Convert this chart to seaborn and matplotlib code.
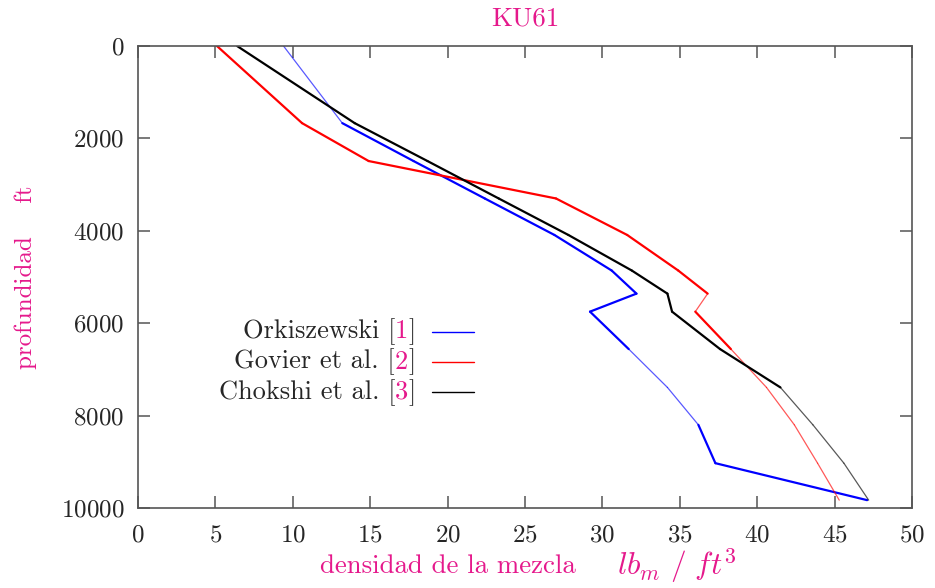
import matplotlib
matplotlib.use("Agg")
import matplotlib.pyplot as plt
import seaborn as sns
from matplotlib.lines import Line2D
from matplotlib.offsetbox import TextArea, HPacker, VPacker, DrawingArea, AnchoredOffsetbox

# depth (ft) shared by the three correlations
depth = [0, 1670, 2490, 3300, 4090, 4860, 5360, 5750, 6560, 7390, 8200, 9030, 9830]

orkiszewski = [9.4, 13.2, 17.8, 22.4, 26.9, 30.6, 32.2, 29.2, 31.7, 34.2, 36.2, 37.3, 47.1]
govier = [5.1, 10.6, 14.9, 27.0, 31.6, 34.9, 36.8, 36.0, 38.3, 40.6, 42.4, 43.9, 45.3]
chokshi = [6.4, 14.0, 18.7, 23.3, 27.8, 31.9, 34.2, 34.5, 37.6, 41.5, 43.6, 45.6, 47.2]

series_names = ["Orkiszewski", "Govier et al.", "Chokshi et al."]
series_refs = ["1", "2", "3"]
xticks = [0, 5, 10, 15, 20, 25, 30, 35, 40, 45, 50]
yticks = [0, 2000, 4000, 6000, 8000, 10000]

MAG = "#e5198c"
colors = ["#0000ff", "#ff0000", "#000000"]
# gnuplot output draws some segments thick, others thin (1 = thick)
thick = [
    [0, 1, 1, 1, 1, 1, 1, 1, 0, 0, 1, 1],
    [1, 1, 1, 1, 1, 1, 0, 1, 0, 0, 0, 0],
    [1, 1, 1, 1, 1, 1, 1, 1, 1, 0, 0, 0],
]

sns.set_style("ticks")
plt.rcParams["font.family"] = ["cmr10", "DejaVu Serif"]
plt.rcParams["mathtext.fontset"] = "cm"
plt.rcParams["axes.formatter.use_mathtext"] = True

fig = plt.figure(figsize=(9.35, 5.88), dpi=100)
ax = fig.add_axes([138 / 935, 1 - 508 / 588, 774 / 935, 462 / 588])

for vals, col, widths in zip([orkiszewski, govier, chokshi], colors, thick):
    for i in range(len(depth) - 1):
        w = widths[i]
        sns.lineplot(x=vals[i:i + 2], y=depth[i:i + 2], sort=False, estimator=None,
                     color=col, lw=1.6 if w else 0.9, alpha=1.0 if w else 0.65, ax=ax)

ax.set_xlim(0, 50)
ax.set_ylim(10000, 0)
ax.set_xticks(xticks)
ax.set_yticks(yticks)
ax.tick_params(direction="in", length=8.5, width=1.1, color="#555555",
               top=True, right=True, labelsize=18)
ax.tick_params(axis="x", pad=11.5)
ax.tick_params(axis="y", pad=10)
for sp in ax.spines.values():
    sp.set_color("#555555")
    sp.set_linewidth(1.2)

ax.set_title("KU61", color=MAG, fontsize=19.5, pad=15)
ax.set_xlabel("")
ax.text(0.4005, -0.125, "densidad de la mezcla", color=MAG, fontsize=19.3,
        ha="center", va="center", transform=ax.transAxes)
ax.text(0.696, -0.126, r"$lb_m\ /\ ft^3$", color=MAG, fontsize=22.5,
        ha="center", va="center", transform=ax.transAxes)
ax.set_ylabel("profundidad    ft", color=MAG, fontsize=18)
ax.yaxis.set_label_coords(-0.1305, 0.5)

# gnuplot style key: right-aligned text, sample to the right, coloured refs
rows = []
for name, ref, col in zip(series_names, series_refs, colors):
    txt = HPacker(children=[TextArea(name + " [", textprops=dict(fontsize=19)),
                            TextArea(ref, textprops=dict(fontsize=19, color=MAG)),
                            TextArea("]", textprops=dict(fontsize=19))],
                  sep=0, pad=0, align="baseline")
    da = DrawingArea(30, 10, 0, 0)
    da.add_artist(Line2D([0, 30], [5, 5], color=col, lw=1.0))
    rows.append(HPacker(children=[txt, da], sep=12, pad=0, align="center"))
key = VPacker(children=rows, sep=2.6, pad=0, align="right")
ab = AnchoredOffsetbox(loc="center right", child=key, bbox_to_anchor=(0.434, 0.316),
                       bbox_transform=ax.transAxes, frameon=False, pad=0, borderpad=0)
ax.add_artist(ab)

plt.savefig("out.png", dpi=100)
